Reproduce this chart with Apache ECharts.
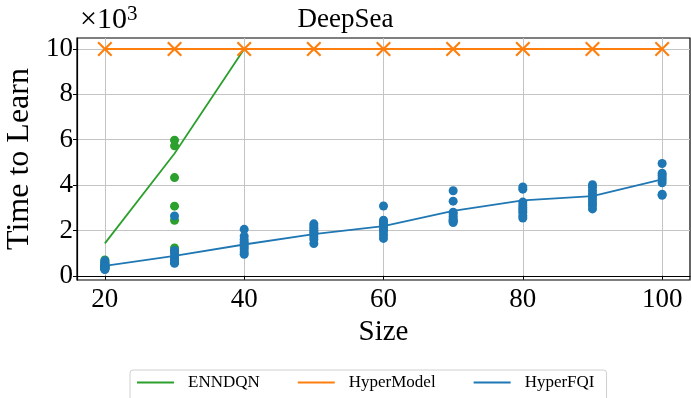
<!DOCTYPE html>
<html>
<head>
<meta charset="utf-8">
<script src="https://cdn.jsdelivr.net/npm/echarts@6/dist/echarts.min.js"></script>
<style>
html,body{margin:0;padding:0;background:#fff;}
#c{width:691px;height:398px;}
</style>
</head>
<body>
<div id="c"></div>
<script>
// ---- data (values in units of 10^3) ----
const sizes = [20, 30, 40, 50, 60, 70, 80, 90, 100];
const xTicks = [20, 40, 60, 80, 100];
const yTicks = [0, 2, 4, 6, 8, 10];

const hyperFqiMean = [0.44, 0.88, 1.38, 1.84, 2.19, 2.86, 3.33, 3.51, 4.25];
const hyperFqiRuns = [
  [0.66, 0.58, 0.52, 0.47, 0.42, 0.38, 0.34, 0.30, 0.28],
  [2.64, 1.12, 0.98, 0.85, 0.75, 0.68, 0.62, 0.58, 0.55],
  [2.05, 1.75, 1.60, 1.48, 1.38, 1.28, 1.18, 1.05, 0.95],
  [2.29, 2.20, 2.10, 2.00, 1.92, 1.83, 1.72, 1.60, 1.42],
  [3.08, 2.45, 2.35, 2.25, 2.15, 2.05, 1.95, 1.80, 1.65],
  [3.75, 3.29, 2.80, 2.72, 2.62, 2.52, 2.45, 2.40, 2.35],
  [3.92, 3.82, 3.25, 3.12, 3.00, 2.90, 2.80, 2.65, 2.55],
  [4.02, 3.90, 3.75, 3.62, 3.48, 3.35, 3.22, 3.10, 2.95],
  [4.95, 4.52, 4.42, 4.32, 4.22, 4.10, 3.60, 3.55]
];

const enndqnSizes = [20, 30, 40];
const enndqnMean = [1.43, 5.39, 10];
// runs that learned within the budget (unsolved runs are not drawn)
const enndqnRunSizes = [20, 30];
const enndqnRuns = [
  [0.70, 0.60, 0.52, 0.46, 0.42, 0.38, 0.35, 0.33, 0.30],
  [5.98, 5.73, 4.33, 3.07, 2.45, 1.23, 1.10]
];

const hyperModelMean = [10, 10, 10, 10, 10, 10, 10, 10, 10];

const seriesNames = ['ENNDQN', 'HyperModel', 'HyperFQI'];
const colors = { ENNDQN: '#2ca02c', HyperModel: '#ff7f0e', HyperFQI: '#1f77b4' };

// ---- build ----
function pairs(xs, ys) { return xs.map((x, i) => [x, ys[i]]); }
function runPairs(xs, runs) {
  const out = [];
  xs.forEach((x, i) => runs[i].forEach(v => out.push([x, v])));
  return out;
}

const FONT = 'Liberation Serif';
const xMark = 'path://M0,1 L1,0 L5,4 L9,0 L10,1 L6,5 L10,9 L9,10 L5,6 L1,10 L0,9 L4,5 Z';

const chart = echarts.init(document.getElementById('c'), null, { renderer: 'canvas' });
chart.setOption({
  animation: false,
  backgroundColor: '#fff',
  textStyle: { fontFamily: FONT, color: '#000' },
  title: {
    text: 'DeepSea', left: 'center', top: 1,
    textStyle: { fontFamily: FONT, fontSize: 27, fontWeight: 'normal', color: '#000' }
  },
  graphic: [{
    type: 'text', left: 80, top: 4,
    style: {
      text: '×10{s|3}', fontFamily: FONT, fontSize: 30, fill: '#000',
      rich: { s: { fontFamily: FONT, fontSize: 21, verticalAlign: 'top', padding: [0, 0, 12, 0] } }
    }
  }],
  grid: {
    left: 77, right: 1, top: 38, bottom: 118,
    containLabel: false, outerBoundsMode: 'none',
    show: true, borderColor: '#000', borderWidth: 1.2, backgroundColor: 'transparent'
  },
  legend: {
    data: seriesNames.map(n => ({ name: n, icon: 'rect' })),
    left: 130, top: 370,
    padding: [4, 12, 12, 7],
    itemWidth: 37, itemHeight: 2, itemGap: 38,
    borderColor: '#d0d0d0', borderWidth: 1, borderRadius: 3,
    textStyle: { fontFamily: FONT, fontSize: 17, color: '#000', padding: [0, 0, 0, 9] }
  },
  xAxis: {
    type: 'value', min: 16, max: 104,
    name: 'Size', nameLocation: 'middle', nameGap: 34,
    nameTextStyle: { fontFamily: FONT, fontSize: 29, color: '#000' },
    axisLine: { show: true, lineStyle: { color: '#000', width: 1.2 } },
    axisTick: { show: true, inside: false, length: 4, lineStyle: { color: '#000' }, customValues: xTicks },
    axisLabel: { fontFamily: FONT, fontSize: 27, color: '#000', margin: 6, customValues: xTicks },
    splitLine: { show: true, lineStyle: { color: '#c4c4c4', width: 1 } }
  },
  yAxis: {
    type: 'value', min: -0.185, max: 10.485,
    name: 'Time to Learn', nameLocation: 'middle', nameGap: 34,
    nameTextStyle: { fontFamily: FONT, fontSize: 32, color: '#000' },
    axisLine: { show: true, lineStyle: { color: '#000', width: 1.2 } },
    axisTick: { show: true, inside: false, length: 4, lineStyle: { color: '#000' }, customValues: yTicks },
    axisLabel: { fontFamily: FONT, fontSize: 27, color: '#000', margin: 4, customValues: yTicks },
    splitLine: { show: true, lineStyle: { color: '#c4c4c4', width: 1 } }
  },
  series: [
    {
      name: 'ENNDQN runs', type: 'scatter', data: runPairs(enndqnRunSizes, enndqnRuns),
      symbolSize: 9, itemStyle: { color: colors.ENNDQN, opacity: 1 }, clip: false, z: 2
    },
    {
      name: 'HyperFQI runs', type: 'scatter', data: runPairs(sizes, hyperFqiRuns),
      symbolSize: 9, itemStyle: { color: colors.HyperFQI, opacity: 1 }, clip: false, z: 2
    },
    {
      name: 'ENNDQN', type: 'line', data: pairs(enndqnSizes, enndqnMean),
      showSymbol: false, symbol: 'none', lineStyle: { color: colors.ENNDQN, width: 1.8 },
      itemStyle: { color: colors.ENNDQN }, z: 3
    },
    {
      name: 'HyperModel', type: 'line', data: pairs(sizes, hyperModelMean),
      symbol: xMark, symbolSize: 15, showSymbol: true,
      lineStyle: { color: colors.HyperModel, width: 1.8 },
      itemStyle: { color: colors.HyperModel, borderWidth: 0 }, z: 4
    },
    {
      name: 'HyperFQI', type: 'line', data: pairs(sizes, hyperFqiMean),
      showSymbol: false, symbol: 'none', lineStyle: { color: colors.HyperFQI, width: 1.8 },
      itemStyle: { color: colors.HyperFQI }, z: 5
    }
  ]
});
</script>
</body>
</html>
